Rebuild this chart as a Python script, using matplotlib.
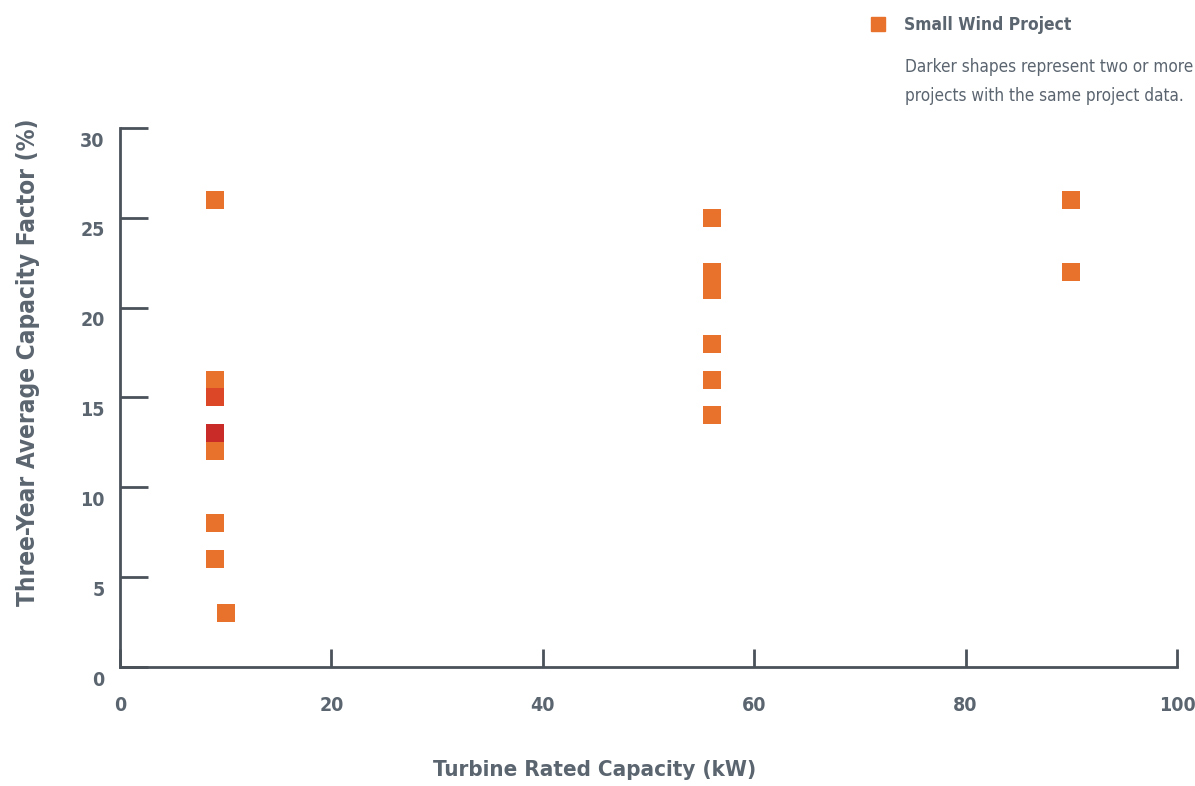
import matplotlib
matplotlib.use('Agg')
import matplotlib.pyplot as plt
from matplotlib.lines import Line2D
from matplotlib.transforms import ScaledTranslation

# Data
capacity_kw = [9, 9, 9, 9, 9, 9, 9, 10, 56, 56, 56, 56, 56, 56, 90, 90]
capacity_factor = [26, 16, 15, 13, 12, 8, 6, 3, 25, 22, 21, 18, 16, 14, 26, 22]
project_count = [1, 1, 2, 3, 1, 1, 1, 1, 1, 1, 1, 1, 1, 1, 1, 1]

x_ticks = [0, 20, 40, 60, 80, 100]
y_ticks = [0, 5, 10, 15, 20, 25, 30]

count_colors = {1: '#e8712b', 2: '#dc4827', 3: '#c92b29'}
text_color = '#5b6570'
axis_color = '#4b525a'

plt.rcParams['font.family'] = ['DejaVu Sans']
plt.rcParams['font.stretch'] = 'condensed'

fig = plt.figure(figsize=(11.95, 7.86), dpi=100)
ax = fig.add_axes([0.1004, 0.1514, 0.8845, 0.6858])

colors = [count_colors[c] for c in project_count]
ax.scatter(capacity_kw, capacity_factor, s=168, marker='s', c=colors,
           linewidths=0, zorder=3, clip_on=False)

ax.set_xlim(0, 100)
ax.set_ylim(0, 30)
ax.set_xticks(x_ticks)
ax.set_yticks(y_ticks)

for side in ['top', 'right']:
    ax.spines[side].set_visible(False)
for side in ['left', 'bottom']:
    ax.spines[side].set_color(axis_color)
    ax.spines[side].set_linewidth(2.0)

ax.tick_params(axis='x', direction='in', length=13, width=2.0, color=axis_color,
               pad=21, labelsize=14, labelcolor=text_color)
ax.tick_params(axis='y', direction='in', length=20, width=2.0, color=axis_color,
               pad=11, labelsize=14, labelcolor=text_color)
for lab in ax.get_xticklabels() + ax.get_yticklabels():
    lab.set_fontweight('bold')
# y labels sit a little below their ticks in the original
offset = ScaledTranslation(0, -8 / 72, fig.dpi_scale_trans)
for lab in ax.get_yticklabels():
    lab.set_transform(lab.get_transform() + offset)

ax.set_xlabel('Turbine Rated Capacity (kW)', fontsize=16, fontweight='bold',
              color=text_color)
ax.xaxis.set_label_coords(0.449, -0.172)
ax.set_ylabel('Three-Year Average Capacity Factor (%)', fontsize=17.5,
              fontweight='bold', color=text_color)
ax.yaxis.set_label_coords(-0.076, 0.566)

# Legend and note
handle = Line2D([], [], marker='s', ls='', color=count_colors[1], markersize=10,
                label='Small Wind Project')
leg = ax.legend(handles=[handle], loc='center left', bbox_to_anchor=(0.7205, 0.968),
                bbox_transform=fig.transFigure, frameon=False, handletextpad=1.0,
                borderpad=0, handlelength=1.0,
                prop={'weight': 'bold', 'size': 12.5, 'stretch': 'condensed'})
for t in leg.get_texts():
    t.set_color(text_color)

fig.text(0.757, 0.896, 'Darker shapes represent two or more\nprojects with the same project data.',
         ha='left', va='center', fontsize=12.3, color=text_color, linespacing=1.75)

fig.savefig('out.png', dpi=100)
